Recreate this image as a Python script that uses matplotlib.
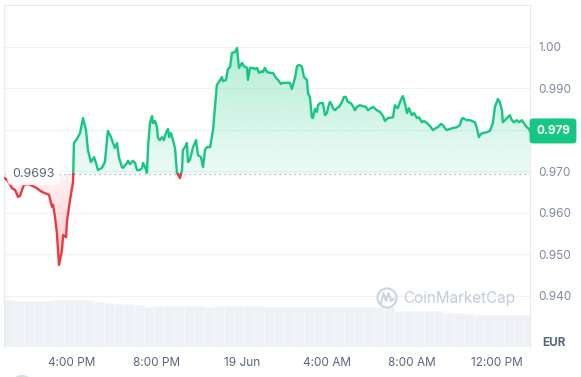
import numpy as np
import matplotlib
matplotlib.use("Agg")
import matplotlib.pyplot as plt
from matplotlib.path import Path
from matplotlib.patches import Circle
from matplotlib.lines import Line2D
from matplotlib.transforms import IdentityTransform
import matplotlib.colors as mcolors

plt.rcParams['font.family'] = ['Inter', 'DejaVu Sans']

# ---------------- data ----------------
# time in hours since 18 Jun 00:00
hours = [
    12.85, 12.99, 13.18, 13.32, 13.46, 13.55, 13.65, 13.74, 13.93, 14.17, 14.35, 14.45, 14.59,
    14.73, 14.92, 15.06, 15.11, 15.20, 15.29, 15.39, 15.53, 15.58, 15.72, 15.77, 15.91, 16.05,
    16.09, 16.24, 16.38, 16.52, 16.66, 16.75, 16.89, 17.04, 17.13, 17.22, 17.41, 17.55, 17.69,
    17.84, 17.93, 18.02, 18.12, 18.21, 18.35, 18.40, 18.59, 18.64, 18.73, 18.87, 18.97, 19.06,
    19.20, 19.30, 19.34, 19.44, 19.53, 19.58, 19.67, 19.77, 19.81, 19.91, 20.00, 20.05, 20.14,
    20.24, 20.33, 20.42, 20.52, 20.57, 20.66, 20.75, 20.85, 20.94, 20.99, 21.08, 21.18, 21.22,
    21.32, 21.41, 21.46, 21.55, 21.70, 21.84, 21.93, 22.07, 22.17, 22.26, 22.35, 22.50, 22.64,
    22.73, 22.82, 22.92, 23.06, 23.11, 23.25, 23.34, 23.44, 23.53, 23.67, 23.77, 23.86, 24.00,
    24.10, 24.24, 24.28, 24.38, 24.52, 24.61, 24.71, 24.80, 24.94, 24.99, 25.08, 25.18, 25.32,
    25.46, 25.60, 25.70, 25.84, 25.93, 26.12, 26.26, 26.35, 26.50, 26.59, 26.68, 26.82, 26.92,
    27.06, 27.11, 27.20, 27.29, 27.34, 27.44, 27.53, 27.58, 27.67, 27.81, 27.91, 28.00, 28.05,
    28.14, 28.24, 28.28, 28.38, 28.47, 28.57, 28.71, 28.80, 28.89, 28.99, 29.13, 29.22, 29.32,
    29.41, 29.55, 29.70, 29.84, 29.93, 30.07, 30.17, 30.35, 30.50, 30.64, 30.73, 30.87, 31.11,
    31.20, 31.34, 31.48, 31.58, 31.67, 31.77, 31.86, 32.00, 32.10, 32.24, 32.33, 32.47, 32.57,
    32.71, 32.85, 32.99, 33.13, 33.22, 33.37, 33.46, 33.55, 33.65, 33.79, 33.93, 34.12, 34.26,
    34.35, 34.40, 34.59, 34.73, 34.97, 35.06, 35.15, 35.25, 35.34, 35.53, 35.67, 35.81, 35.91,
    36.00, 36.05, 36.14, 36.24, 36.28, 36.38, 36.47, 36.61, 36.71, 36.80, 36.94, 37.04, 37.18,
    37.27, 37.41, 37.51, 37.55,
]
price = [
    0.9683, 0.9676, 0.9659, 0.9655, 0.9638, 0.9640, 0.9655, 0.9667, 0.9669, 0.9664, 0.9659, 0.9655, 0.9650,
    0.9647, 0.9643, 0.9614, 0.9619, 0.9590, 0.9551, 0.9474, 0.9510, 0.9546, 0.9541, 0.9582, 0.9631, 0.9674,
    0.9768, 0.9778, 0.9792, 0.9828, 0.9799, 0.9751, 0.9722, 0.9734, 0.9720, 0.9703, 0.9708, 0.9722, 0.9797,
    0.9782, 0.9768, 0.9756, 0.9768, 0.9734, 0.9710, 0.9708, 0.9720, 0.9725, 0.9717, 0.9725, 0.9720, 0.9703,
    0.9703, 0.9708, 0.9720, 0.9710, 0.9696, 0.9758, 0.9816, 0.9833, 0.9816, 0.9821, 0.9806, 0.9780, 0.9775,
    0.9782, 0.9775, 0.9792, 0.9802, 0.9782, 0.9792, 0.9775, 0.9756, 0.9696, 0.9693, 0.9683, 0.9703, 0.9751,
    0.9758, 0.9768, 0.9722, 0.9727, 0.9758, 0.9775, 0.9739, 0.9734, 0.9710, 0.9751, 0.9758, 0.9758, 0.9799,
    0.9855, 0.9908, 0.9915, 0.9927, 0.9917, 0.9920, 0.9946, 0.9951, 0.9985, 0.9987, 0.9997, 0.9949, 0.9961,
    0.9953, 0.9949, 0.9920, 0.9949, 0.9949, 0.9946, 0.9949, 0.9937, 0.9941, 0.9939, 0.9949, 0.9939, 0.9937,
    0.9937, 0.9925, 0.9920, 0.9910, 0.9913, 0.9913, 0.9913, 0.9898, 0.9925, 0.9953, 0.9956, 0.9953, 0.9927,
    0.9920, 0.9888, 0.9879, 0.9830, 0.9828, 0.9850, 0.9843, 0.9859, 0.9864, 0.9864, 0.9835, 0.9840, 0.9852,
    0.9867, 0.9859, 0.9852, 0.9847, 0.9852, 0.9855, 0.9867, 0.9879, 0.9879, 0.9867, 0.9864, 0.9857, 0.9847,
    0.9855, 0.9859, 0.9857, 0.9855, 0.9847, 0.9852, 0.9855, 0.9847, 0.9843, 0.9833, 0.9821, 0.9828, 0.9830,
    0.9859, 0.9852, 0.9872, 0.9881, 0.9864, 0.9840, 0.9852, 0.9835, 0.9840, 0.9828, 0.9830, 0.9818, 0.9821,
    0.9816, 0.9809, 0.9799, 0.9804, 0.9806, 0.9814, 0.9811, 0.9804, 0.9799, 0.9802, 0.9804, 0.9806, 0.9811,
    0.9826, 0.9828, 0.9823, 0.9823, 0.9818, 0.9804, 0.9782, 0.9790, 0.9792, 0.9794, 0.9797, 0.9816, 0.9855,
    0.9867, 0.9874, 0.9867, 0.9847, 0.9818, 0.9823, 0.9828, 0.9835, 0.9823, 0.9818, 0.9823, 0.9818, 0.9823,
    0.9816, 0.9806, 0.9802, 0.9797,
]
baseline = 0.9693
baseline_label = "0.9693"
last_price_label = "0.979"

# volume (arbitrary units), regular sampling across the window
volume = [
    47, 46.5, 46, 46, 46, 47, 47, 47, 47.5, 45.5, 44.3, 43.5, 43, 42, 40.5, 41, 41, 41, 41, 41,
    40, 41, 41, 41, 41, 41, 40.5, 40.5, 40.5, 40.5, 40.5, 40.5, 40.5, 40.5, 40.5, 40.5, 40.5,
    40.5, 40.5, 36.5, 36.5, 36.5, 36.5, 36.5, 34.5, 34.5, 33, 32, 32, 32, 32, 32, 32,
]
vol_first_hour = 13.04
vol_last_hour = 37.51

xtick_hours = [16, 20, 24, 28, 32, 36]
xtick_labels = ["4:00 PM", "8:00 PM", "19 Jun", "4:00 AM", "8:00 AM", "12:00 PM"]
ytick_values = [0.94, 0.95, 0.96, 0.97, 0.98, 0.99, 1.00]
# the 0.980 label sits under the current-price badge, so it is not shown
ytick_labels = ["0.940", "0.950", "0.960", "0.970", "", "0.990", "1.00"]

# ---------------- style ----------------
GREEN = "#16c784"
RED = "#ea3943"
GRID = "#eff2f5"
TXT = "#808a9d"
TXT_DARK = "#58667e"

W, H = 581, 377
fig = plt.figure(figsize=(W / 100, H / 100), dpi=100)
fig.patch.set_facecolor("white")

rect = [4 / W, 30 / H, 526 / W, 342 / H]
xlim = (12.80, 37.56)
ylim = (0.92764, 1.01005)

# volume axes (behind)
axv = fig.add_axes(rect, zorder=0)
vt = np.linspace(vol_first_hour, vol_last_hour, len(volume))
step = vt[1] - vt[0]
axv.bar(vt, volume, width=step, color="#eef1f5", edgecolor="#f7f8fa", linewidth=0.6)
axv.set_xlim(*xlim)
axv.set_ylim(0, 342)
axv.axis("off")

# price axes
ax = fig.add_axes(rect, zorder=1)
ax.patch.set_visible(False)

t = np.array(hours)
p = np.array(price)
tt, pp = [t[0]], [p[0]]
for i in range(1, len(t)):
    a, b = p[i - 1] - baseline, p[i] - baseline
    if a * b < 0:
        tt.append(t[i - 1] + (t[i] - t[i - 1]) * a / (a - b))
        pp.append(baseline)
    tt.append(t[i])
    pp.append(p[i])
tt = np.array(tt)
pp = np.array(pp)


def grad_fill(upper, lower, color, y_bot, y_top, a_bot, a_top, z):
    coll = ax.fill_between(tt, upper, lower, facecolor="none", edgecolor="none")
    clip = Path.make_compound_path(*coll.get_paths())
    rgb = mcolors.to_rgb(color)
    n = 256
    img = np.zeros((n, 1, 4))
    img[:, 0, :3] = rgb
    img[:, 0, 3] = np.linspace(a_bot, a_top, n)
    im = ax.imshow(img, extent=[tt.min(), tt.max(), y_bot, y_top], origin="lower",
                   aspect="auto", zorder=z, interpolation="bilinear")
    im.set_clip_path(clip, transform=ax.transData)


grad_fill(np.maximum(pp, baseline), baseline, GREEN, baseline, 1.0, 0.08, 0.32, 1)
grad_fill(np.full_like(pp, baseline), np.minimum(pp, baseline), RED, 0.946, baseline, 0.30, 0.06, 1)

green = np.where(pp >= baseline, pp, np.nan)
red = np.where(pp <= baseline, pp, np.nan)
ax.plot(tt, green, color=GREEN, lw=1.7, solid_joinstyle="round", zorder=3)
ax.plot(tt, red, color=RED, lw=1.7, solid_joinstyle="round", zorder=3)

ax.axhline(baseline, color="#9aa3b5", lw=0.9, ls=(0, (1, 3)), zorder=2)

ax.set_xlim(*xlim)
ax.set_ylim(*ylim)

ax.set_yticks(ytick_values)
ax.set_yticklabels(ytick_labels)
ax.yaxis.tick_right()
ax.tick_params(axis="y", length=0, pad=6, labelcolor=TXT, labelsize=8.5)
ax.set_xticks(xtick_hours)
ax.set_xticklabels(xtick_labels)
ax.tick_params(axis="x", length=0, pad=7, labelcolor=TXT_DARK, labelsize=8.5)
ax.grid(axis="y", color=GRID, lw=0.8)
ax.set_axisbelow(True)
for s in ["left", "top", "right"]:
    ax.spines[s].set_color("#e8ebf0")
    ax.spines[s].set_linewidth(0.8)
ax.spines["bottom"].set_visible(False)

# baseline label
ax.text(0.016, baseline, baseline_label, transform=ax.get_yaxis_transform(),
        ha="left", va="center", fontsize=9, color=TXT_DARK, zorder=5,
        bbox=dict(boxstyle="round,pad=0.4", fc="white", ec="none", alpha=0.9))

# last price label
ax.text(1.0437, price[-1], last_price_label, transform=ax.get_yaxis_transform(),
        ha="center", va="center", fontsize=8.5, color="white", weight="bold",
        zorder=6, clip_on=False,
        bbox=dict(boxstyle="round,pad=0.55,rounding_size=0.3", fc=GREEN, ec="none"))

fig.text(554 / W, (H - 343) / H, "EUR", ha="center", va="center",
         fontsize=8.5, weight="bold", color=TXT_DARK)

# watermark
idt = IdentityTransform()
fig.patches.append(Circle((387, H - 298), 9.5, transform=idt, fill=False,
                          ec="#cdd4df", lw=1.5))
wx = [381, 383.5, 386, 388.5, 391, 393.5]
wy = [303, 293, 301, 293, 301, 299]
fig.lines.append(Line2D(wx, [H - v for v in wy], transform=idt, color="#cdd4df", lw=1.5))
fig.text(403, H - 298, "CoinMarketCap", transform=idt, ha="left", va="center",
         fontsize=11, color="#c5ccd7")

# partial icon at bottom-left
fig.patches.append(Circle((22, H - 387), 12, transform=idt, fc="#d9dde4", ec="none"))

fig.savefig("out.png", dpi=100)
